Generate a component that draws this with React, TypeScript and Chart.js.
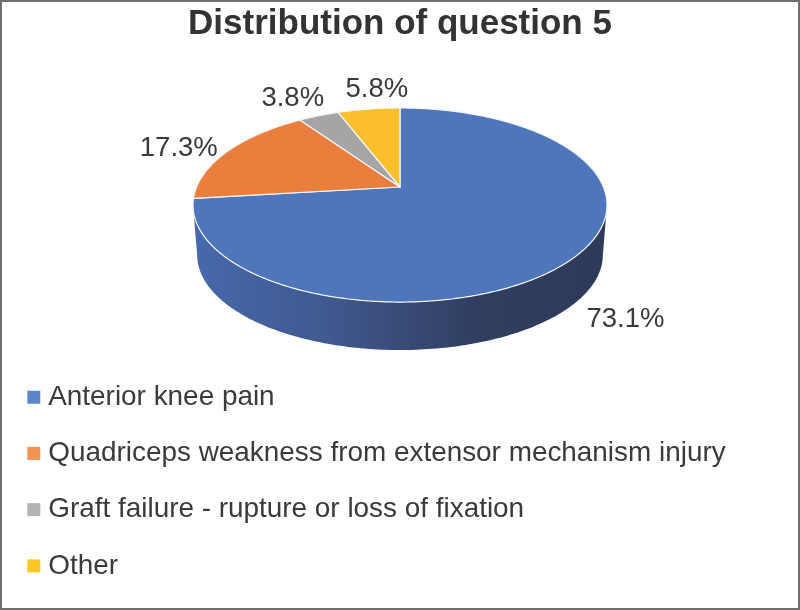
import React, { useEffect, useRef } from "react";
import { Chart, registerables } from "chart.js";

Chart.register(...registerables);

const titleText = "Distribution of question 5";
const categories = [
  "Anterior knee pain",
  "Quadriceps weakness from extensor mechanism injury",
  "Graft failure - rupture or loss of fixation",
  "Other",
];
const shares = [73.1, 17.3, 3.8, 5.8];
const shareLabels = ["73.1%", "17.3%", "3.8%", "5.8%"];
const sliceColors = ["#4f75ba", "#ea7f3d", "#a5a5a5", "#fbbe2d"];
const legendColors = ["#5b87c8", "#f4934f", "#b3b3b3", "#fdc825"];
const labelOffsets = [[52, 62], [-49, -3], [-26, -17], [8, -20]];

const FONT = '"Liberation Sans", Arial, sans-serif';
const INK = "#3a3a3a";

// Perspective projection of the unit disc on to the page.
const CX = 400, APEX_Y = 187, A = 203.4, B = 93.7, P = 0.1856;
const DEPTH = 50.3, BOTTOM_SCALE = 0.98;

const project = (theta: number, bottom = false) => {
  const u = Math.sin(theta), v = -Math.cos(theta), w = 1 - P * v;
  const s = bottom ? BOTTOM_SCALE : 1;
  return { x: CX + (s * A * u) / w, y: APEX_Y + (bottom ? DEPTH : 0) + (s * B * v) / w };
};
const toTheta = (angle: number) => angle + Math.PI / 2;
const STEP = Math.PI / 180;
const FRONT_START = Math.acos(-P), FRONT_END = 2 * Math.PI - FRONT_START;

const pie3d = {
  id: "pie3d",
  beforeDatasetsDraw(chart: any) {
    const { ctx } = chart;
    const arcs = chart.getDatasetMeta(0).data;
    const wall = ctx.createLinearGradient(193, 0, 607, 0);
    wall.addColorStop(0, "#4769ac");
    wall.addColorStop(0.3, "#405a92");
    wall.addColorStop(0.5, "#394c78");
    wall.addColorStop(0.68, "#303e60");
    wall.addColorStop(1, "#2e3a59");
    arcs.forEach((arc: any) => {
      const from = Math.max(toTheta(arc.startAngle), FRONT_START);
      const to = Math.min(toTheta(arc.endAngle), FRONT_END);
      if (to > from) {
        ctx.beginPath();
        for (let t = from; t < to; t += STEP) {
          const p = project(t);
          ctx.lineTo(p.x, p.y);
        }
        const e = project(to), eb = project(to, true);
        ctx.lineTo(e.x, e.y);
        ctx.lineTo(eb.x, eb.y);
        for (let t = to; t > from; t -= STEP) {
          const p = project(t, true);
          ctx.lineTo(p.x, p.y);
        }
        const sb = project(from, true);
        ctx.lineTo(sb.x, sb.y);
        ctx.closePath();
        ctx.fillStyle = wall;
        ctx.fill();
      }
      arc.draw = function (c: CanvasRenderingContext2D) {
        const a = toTheta(this.startAngle), b = toTheta(this.endAngle);
        c.save();
        c.beginPath();
        c.moveTo(CX, APEX_Y);
        for (let t = a; t < b; t += STEP / 2) {
          const p = project(t);
          c.lineTo(p.x, p.y);
        }
        const end = project(b);
        c.lineTo(end.x, end.y);
        c.closePath();
        c.fillStyle = this.options.backgroundColor;
        c.fill();
        c.strokeStyle = this.options.borderColor;
        c.lineWidth = this.options.borderWidth;
        c.lineJoin = "round";
        c.stroke();
        c.restore();
      };
    });
  },
  afterDatasetsDraw(chart: any) {
    const { ctx } = chart;
    const arcs = chart.getDatasetMeta(0).data;
    ctx.save();
    ctx.font = `27.5px ${FONT}`;
    ctx.fillStyle = INK;
    ctx.textAlign = "center";
    ctx.textBaseline = "middle";
    arcs.forEach((arc: any, i: number) => {
      const p = project(toTheta((arc.startAngle + arc.endAngle) / 2));
      ctx.fillText(shareLabels[i], p.x + labelOffsets[i][0], p.y + labelOffsets[i][1]);
    });
    ctx.restore();
  },
  afterDraw(chart: any) {
    const { ctx, width, height } = chart;
    ctx.save();
    ctx.strokeStyle = "#707070";
    ctx.lineWidth = 2;
    ctx.strokeRect(1, 1, width - 2, height - 2);
    ctx.restore();
  },
  afterLayout(chart: any) {
    const legend = chart.legend;
    legend.left = 5;
    legend.right = 800;
    legend.top = 355;
    legend.bottom = 610;
    legend.width = 795;
    legend.height = 255;
  },
};

export default function App() {
  const ref = useRef<HTMLCanvasElement>(null);
  useEffect(() => {
    const chart = new Chart(ref.current!, {
      type: "pie",
      data: {
        labels: categories,
        datasets: [
          {
            data: shares,
            backgroundColor: sliceColors,
            borderColor: "#f4f6fb",
            borderWidth: 1.2,
            clip: false,
          } as any,
        ],
      },
      plugins: [pie3d],
      options: {
        animation: false,
        responsive: false,
        layout: { padding: 0 },
        plugins: {
          tooltip: { enabled: false },
          title: {
            display: true,
            text: titleText,
            color: "#333333",
            font: { family: FONT, size: 35, weight: "bold" },
            padding: { top: 3, bottom: 8 },
          },
          legend: {
            position: "chartArea" as any,
            align: "start",
            labels: {
              color: INK,
              font: { family: FONT, size: 27.9 },
              padding: 28.3,
              usePointStyle: true,
              boxWidth: 1,
              boxHeight: 13,
              generateLabels: () =>
                categories.map((text, i) => ({
                  text,
                  fillStyle: legendColors[i],
                  strokeStyle: legendColors[i],
                  fontColor: INK,
                  lineWidth: 0,
                  pointStyle: "rect",
                  hidden: false,
                  index: i,
                })),
            },
          },
        },
      },
    });
    return () => chart.destroy();
  }, []);
  return (
    <canvas
      ref={ref}
      width={800}
      height={610}
      style={{ position: "fixed", left: 0, top: 0, width: 800, height: 610, background: "#fff" }}
    />
  );
}
